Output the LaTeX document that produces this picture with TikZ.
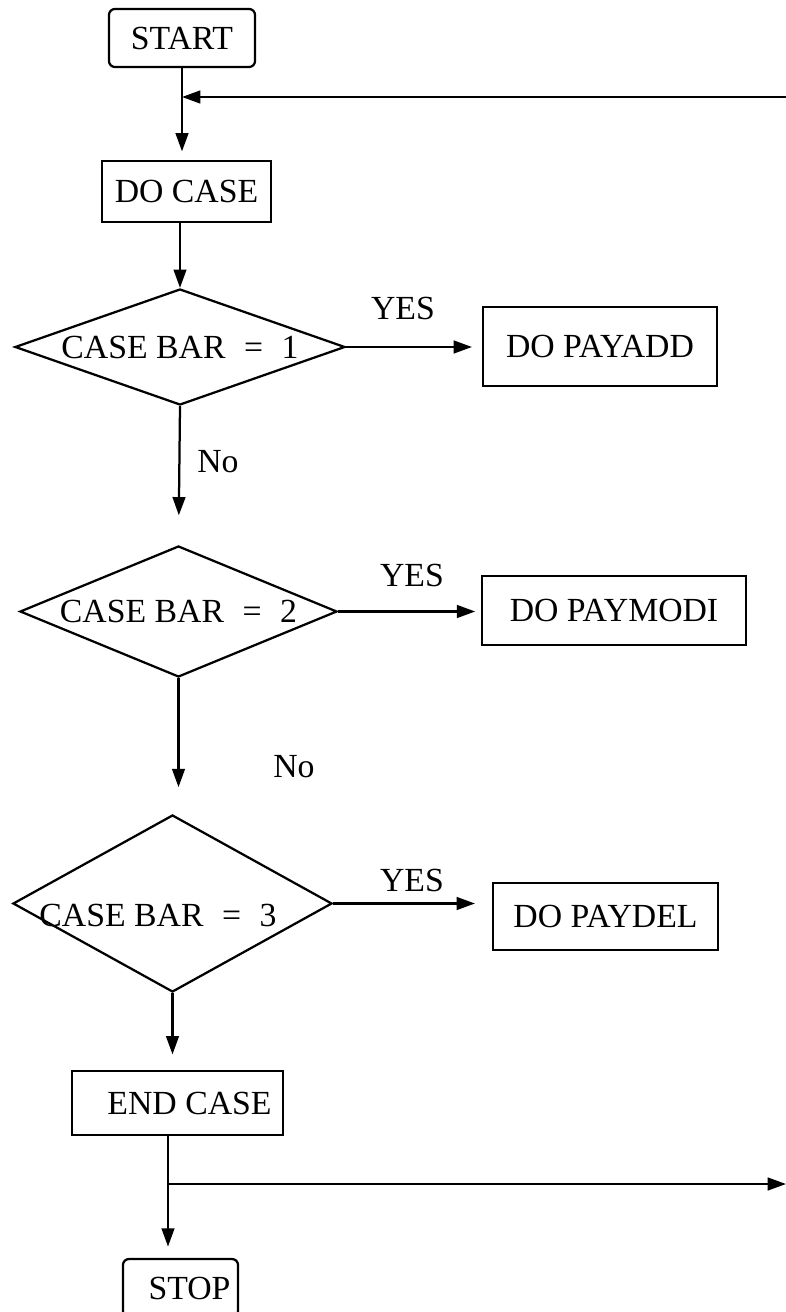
\documentclass[tikz,border=0pt]{standalone}
\usepackage{fontspec}
\setmainfont{Liberation Serif}
\usetikzlibrary{shapes.geometric,arrows.meta}

\begin{document}
\begin{tikzpicture}[x=0.025cm,y=-0.025cm,
    font=\fontsize{24}{28}\selectfont,
    line width=1.6pt,
    box/.style={draw,rectangle,inner sep=0pt},
    term/.style={box,rounded corners=0.15cm},
    decision/.style={draw,diamond,aspect=2.8,inner sep=0pt},
    flow/.style={-{Triangle[length=13pt,width=9pt]}},
    lbl/.style={inner sep=0pt}]
    \useasboundingbox (0,0) rectangle (786,1312);
    % main column
    \node[term,minimum width=3.65cm,minimum height=1.45cm] (start) at (182,38) {START};
    \node[box,minimum width=4.225cm,minimum height=1.525cm] (docase) at (186.5,191.5) {DO CASE};
    \node[decision,minimum width=8.25cm,minimum height=2.9cm] (d1) at (180,347) {CASE BAR\hspace{0.55em}=\hspace{0.55em}1};
    \node[decision,minimum width=7.925cm,minimum height=3.275cm] (d2) at (178.5,611.5) {CASE BAR\hspace{0.55em}=\hspace{0.55em}2};
    \node[decision,minimum width=7.975cm,minimum height=4.425cm] (d3) at (172.5,903.5) {};
    \node[lbl] (d3txt) at (158,915) {CASE BAR\hspace{0.55em}=\hspace{0.55em}3};
    \node[box,minimum width=5.275cm,minimum height=1.6cm] (endcase) at (177.5,1103) {\hspace{0.6cm}END CASE};
    \node[term,minimum width=2.875cm,minimum height=1.45cm] (stop) at (180.5,1288) {\hspace{0.45cm}STOP};
    % branches
    \node[box,minimum width=5.85cm,minimum height=1.975cm] (payadd) at (600,346.5) {DO PAYADD\hspace{0.2cm}};
    \node[box,minimum width=6.6cm,minimum height=1.725cm] (paymodi) at (614,610.5) {DO PAYMODI\hspace{0.5cm}};
    \node[box,minimum width=5.625cm,minimum height=1.675cm] (paydel) at (605.5,916.5) {DO PAYDEL\hspace{0.8cm}};
    % labels
    \node[lbl] (yes1) at (403,308) {YES};
    \node[lbl] (yes2) at (412,575) {YES};
    \node[lbl] (yes3) at (412,880) {YES};
    \node[lbl] (no1) at (218,462) {No};
    \node[lbl] (no2) at (294,767) {No};
    % connectors
    \coordinate (back) at (786,97);
    \coordinate (split) at (168,1184);
    \coordinate (out) at (786,1184);
    \draw[flow,shorten >=6pt] (start.south) -- (start.south |- docase.north);
    \draw[flow] (back) -- (back -| start.south);
    \draw[flow] (docase.south -| d1.north) -- (d1.north);
    \draw[flow,shorten >=21pt] (d1.south) -- (d2.north);
    \draw[flow,shorten >=19pt] (d2.south) -- (d2.south |- d3.north);
    \draw[flow,shorten >=11pt] (d3.south) -- (d3.south |- endcase.north);
    \draw[flow,shorten >=7pt] (d1.east) -- (payadd.west |- d1.east);
    \draw[flow,shorten >=4pt] (d2.east) -- (paymodi.west |- d2.east);
    \draw[flow,shorten >=12pt] (d3.east) -- (paydel.west |- d3.east);
    \draw (split |- endcase.south) -- (split);
    \draw[flow,shorten >=8pt] (split) -- (split |- stop.north);
    \draw[flow] (split) -- (out);
\end{tikzpicture}
\end{document}
